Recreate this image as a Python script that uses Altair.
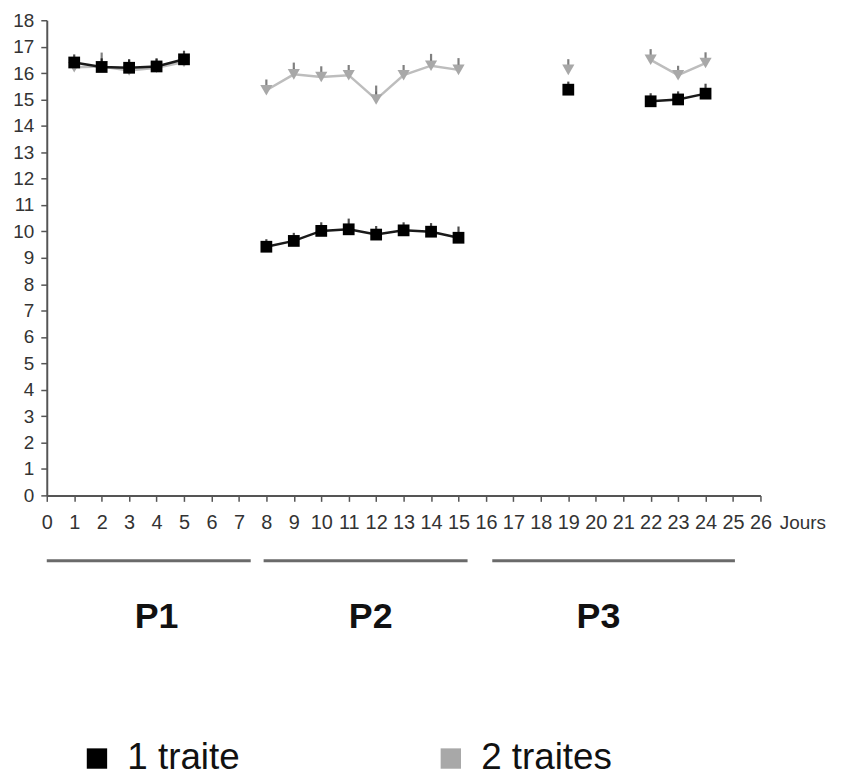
import altair as alt
import pandas as pd

# ---- data ----
days = [1, 2, 3, 4, 5, 8, 9, 10, 11, 12, 13, 14, 15, 19, 22, 23, 24]
segment = ["P1"] * 5 + ["P2"] * 8 + ["P3a"] + ["P3b"] * 3
one_traite = [16.40, 16.23, 16.20, 16.25, 16.52,
              9.42, 9.64, 10.02, 10.08, 9.88, 10.04, 9.99, 9.76,
              15.37, 14.93, 15.00, 15.22]
one_err = [0.08, 0.10, 0.10, 0.08, 0.10,
           0.06, 0.08, 0.10, 0.18, 0.10, 0.08, 0.10, 0.20,
           0.08, 0.08, 0.08, 0.15]
two_traites = [16.22, 16.25, 16.10, 16.20, 16.42,
               15.35, 15.95, 15.85, 15.92, 15.00, 15.92, 16.28, 16.12,
               16.12, 16.50, 15.92, 16.38]
two_err = [0.12, 0.30, 0.18, 0.12, 0.08,
           0.18, 0.22, 0.18, 0.16, 0.30, 0.16, 0.22, 0.22,
           0.18, 0.18, 0.13, 0.18]

series_names = ["1 traite", "2 traites"]
series_colors = ["#000000", "#a8a8a8"]
line_colors = ["#1a1a1a", "#bdbdbd"]
stem_colors = ["#000000", "#a8a8a8"]
cap_colors = ["#000000", "#4a4a4a"]
series_shapes = ["square", "triangle-down"]

x_ticks = list(range(0, 27))
y_ticks = list(range(0, 19))

period_labels = ["P1", "P2", "P3"]
period_start = [0.0, 7.9, 16.23]
period_end = [7.43, 15.33, 25.07]
period_mid = [4.0, 11.8, 20.1]
period_line_y = -2.48
period_label_y = -4.62

# ---- tables ----
rows = []
# gray series first so the black one is drawn on top
for k, vals, errs in [(1, two_traites, two_err), (0, one_traite, one_err)]:
    for d, seg, v, e in zip(days, segment, vals, errs):
        rows.append({
            "day": d, "seg": seg, "value": v, "upper": v + e,
            "series": series_names[k], "shape": series_shapes[k],
            "cap": cap_colors[k], "stem": stem_colors[k], "linecol": line_colors[k],
        })
df = pd.DataFrame(rows)

periods = pd.DataFrame({
    "label": period_labels, "x1": period_start, "x2": period_end,
    "mid": period_mid,
    "ly": [period_line_y] * 3, "ty": [period_label_y] * 3,
})

font = "Liberation Sans"

x_scale = alt.Scale(domain=[0, 26], nice=False, zero=False)
y_scale = alt.Scale(domain=[0, 18], nice=False)

x_axis = alt.Axis(values=x_ticks, title="Jours", labelFontSize=20, labelFont=font,
                  labelColor="#333333", labelPadding=11, tickSize=6, tickColor="#555",
                  domainColor="#555", domainWidth=2, tickWidth=1.5, grid=False,
                  labelFlush=False, labelOverlap=False, format="d",
                  titleFont=font, titleFontSize=19, titleFontWeight="normal",
                  titleColor="#333333", titleAnchor="start", titleAlign="left",
                  titleX=737, titleY=27, titleBaseline="middle")
y_axis = alt.Axis(values=y_ticks, title=None, labelFontSize=19, labelFont=font,
                  labelColor="#333333", labelPadding=7, tickSize=6, tickColor="#555",
                  domainColor="#555", domainWidth=2, tickWidth=1.5, grid=False,
                  labelOverlap=False, format="d")


def X(field):
    return alt.X(field, scale=x_scale, axis=x_axis, title="Jours")


def Y(field):
    return alt.Y(field, scale=y_scale, axis=y_axis, title=None)


base = alt.Chart(df)

lines = base.mark_line(strokeWidth=2.5).encode(
    x=X("day:Q"), y=Y("value:Q"),
    detail=alt.Detail("seg:N"),
    color=alt.Color("linecol:N", scale=None),
    order=alt.Order("day:Q"),
)
line_gray = lines.transform_filter(alt.datum.series == "2 traites")
line_black = lines.transform_filter(alt.datum.series == "1 traite")

stems = base.mark_rule(strokeWidth=1.5).encode(
    x=X("day:Q"), y=Y("value:Q"), y2="upper:Q",
    color=alt.Color("stem:N", scale=None),
)
caps = base.mark_tick(size=12, thickness=2.2).encode(
    x=X("day:Q"), y=Y("upper:Q"),
    color=alt.Color("cap:N", scale=None),
)

points_gray = base.mark_point(filled=True, opacity=1, size=150).encode(
    x=X("day:Q"), y=Y("value:Q"),
    shape=alt.Shape("shape:N", scale=None),
    color=alt.Color("series:N",
                    scale=alt.Scale(domain=series_names, range=series_colors),
                    legend=alt.Legend(title=None, orient="none", legendX=32, legendY=724,
                                      direction="horizontal", symbolType="square",
                                      symbolSize=420, symbolStrokeWidth=0, symbolOpacity=1,
                                      labelFontSize=37, labelFont=font, labelColor="#111",
                                      labelOffset=12, columnPadding=193, padding=0,
                                      labelLimit=300)),
).transform_filter(alt.datum.series == "2 traites")

points_black = base.mark_point(filled=True, opacity=1, size=140, shape="square", color="#000").encode(
    x=X("day:Q"), y=Y("value:Q"),
).transform_filter(alt.datum.series == "1 traite")

period_rules = alt.Chart(periods).mark_rule(strokeWidth=3, color="#6a6a6a").encode(
    x=X("x1:Q"), x2="x2:Q", y=Y("ly:Q"),
)
period_text = alt.Chart(periods).mark_text(
    font=font, fontSize=36, fontWeight="bold", color="#111", baseline="middle", align="center"
).encode(x=X("mid:Q"), y=Y("ty:Q"), text="label:N")

chart = alt.layer(
    line_gray, stems.transform_filter(alt.datum.series == "2 traites"),
    caps.transform_filter(alt.datum.series == "2 traites"), points_gray,
    line_black, stems.transform_filter(alt.datum.series == "1 traite"),
    caps.transform_filter(alt.datum.series == "1 traite"), points_black,
    period_rules, period_text,
).properties(
    width=718, height=478,
    padding={"left": 39, "top": 10, "right": 75, "bottom": 283},
    autosize=alt.AutoSizeParams(type="none"),
    background="white",
).configure_view(stroke=None).configure_point(opacity=1).configure_legend(symbolOpacity=1)

chart.save("out.html", embed_options={"renderer": "svg", "actions": False})
